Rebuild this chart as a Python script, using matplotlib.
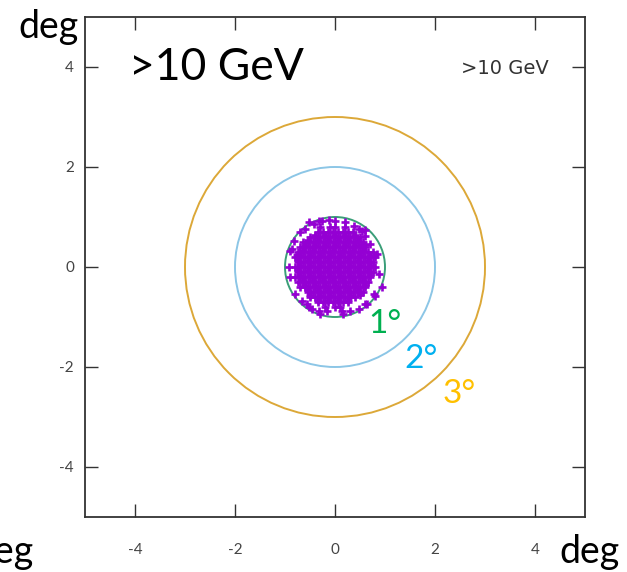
import matplotlib
matplotlib.use("Agg")
import matplotlib.pyplot as plt
from matplotlib.patches import Circle

# ---------------- data ----------------
tick_values = [-4, -2, 0, 2, 4]
tick_labels = ["-4", "-2", "0", "2", "4"]

ring_radii = [1, 2, 3]
ring_colors = ["#3a9e78", "#8cc6e6", "#dca838"]
ring_labels = ["1°", "2°", "3°"]
ring_label_colors = ["#00b050", "#00b0f0", "#ffc000"]
ring_label_x = [1.00, 1.72, 2.48]
ring_label_y = [-1.14, -1.84, -2.54]

# dense core of events (deg), read row by row
core_row_y = [0.8, 0.7, 0.6, 0.5, 0.4, 0.3, 0.2, 0.1, 0.0,
              -0.1, -0.2, -0.3, -0.4, -0.5, -0.6, -0.7, -0.8]
core_row_x = [
    [-0.3, -0.1, 0.0, 0.2],
    [-0.35, -0.25, -0.15, -0.05, 0.05, 0.15, 0.25, 0.35],
    [-0.5, -0.4, -0.3, -0.2, -0.1, 0.0, 0.1, 0.2, 0.3, 0.4, 0.5],
    [-0.65, -0.55, -0.45, -0.35, -0.25, -0.15, -0.05, 0.05, 0.15, 0.25, 0.35, 0.45, 0.55],
    [-0.7, -0.6, -0.5, -0.4, -0.3, -0.2, -0.1, 0.0, 0.1, 0.2, 0.3, 0.4, 0.5, 0.6],
    [-0.75, -0.65, -0.55, -0.45, -0.35, -0.25, -0.15, -0.05, 0.05, 0.15, 0.25, 0.35, 0.45, 0.55, 0.65, 0.75],
    [-0.8, -0.7, -0.6, -0.5, -0.4, -0.3, -0.2, -0.1, 0.0, 0.1, 0.2, 0.3, 0.4, 0.5, 0.6, 0.7],
    [-0.75, -0.65, -0.55, -0.45, -0.35, -0.25, -0.15, -0.05, 0.05, 0.15, 0.25, 0.35, 0.45, 0.55, 0.65, 0.75],
    [-0.8, -0.7, -0.6, -0.5, -0.4, -0.3, -0.2, -0.1, 0.0, 0.1, 0.2, 0.3, 0.4, 0.5, 0.6, 0.7, 0.8],
    [-0.75, -0.65, -0.55, -0.45, -0.35, -0.25, -0.15, -0.05, 0.05, 0.15, 0.25, 0.35, 0.45, 0.55, 0.65, 0.75],
    [-0.8, -0.7, -0.6, -0.5, -0.4, -0.3, -0.2, -0.1, 0.0, 0.1, 0.2, 0.3, 0.4, 0.5, 0.6, 0.7],
    [-0.75, -0.65, -0.55, -0.45, -0.35, -0.25, -0.15, -0.05, 0.05, 0.15, 0.25, 0.35, 0.45, 0.55, 0.65],
    [-0.7, -0.6, -0.5, -0.4, -0.3, -0.2, -0.1, 0.0, 0.1, 0.2, 0.3, 0.4, 0.5, 0.6],
    [-0.55, -0.45, -0.35, -0.25, -0.15, -0.05, 0.05, 0.15, 0.25, 0.35, 0.45, 0.55],
    [-0.5, -0.4, -0.3, -0.2, -0.1, 0.0, 0.1, 0.2, 0.3, 0.4],
    [-0.35, -0.25, -0.15, -0.05, 0.05, 0.15, 0.25],
    [-0.2, 0.0, 0.1],
]

# second, interleaved pass over the dense core (deg)
fill_row_y = [0.65, 0.55, 0.45, 0.35, 0.25, 0.15, 0.05,
              -0.05, -0.15, -0.25, -0.35, -0.45, -0.55, -0.65]
fill_row_x = [
    [-0.4, -0.2, 0.0, 0.2, 0.4],
    [-0.55, -0.35, -0.15, 0.05, 0.25, 0.45],
    [-0.6, -0.4, -0.2, 0.0, 0.2, 0.4, 0.6],
    [-0.65, -0.45, -0.25, -0.05, 0.15, 0.35, 0.55],
    [-0.7, -0.5, -0.3, -0.1, 0.1, 0.3, 0.5, 0.7],
    [-0.75, -0.55, -0.35, -0.15, 0.05, 0.25, 0.45, 0.65],
    [-0.7, -0.5, -0.3, -0.1, 0.1, 0.3, 0.5, 0.7],
    [-0.75, -0.55, -0.35, -0.15, 0.05, 0.25, 0.45, 0.65],
    [-0.7, -0.5, -0.3, -0.1, 0.1, 0.3, 0.5, 0.7],
    [-0.65, -0.45, -0.25, -0.05, 0.15, 0.35, 0.55],
    [-0.6, -0.4, -0.2, 0.0, 0.2, 0.4, 0.6],
    [-0.55, -0.35, -0.15, 0.05, 0.25, 0.45],
    [-0.5, -0.3, -0.1, 0.1, 0.3, 0.5],
    [-0.35, -0.15, 0.05, 0.25],
]

# sparse outer events (deg)
halo_x = [-0.53, -0.33, -0.13, 0.00, 0.20, 0.37, 0.53, 0.60, 0.70, 0.80,
          0.87, 0.93, 0.77, 0.60, 0.47, 0.15, -0.33, -0.53, -0.67, -0.80,
          -0.90, -0.93, -0.90, -0.83, -0.70, -0.60, 0.47, 0.60, 0.83, 0.80,
          0.64, 0.30, -0.47, -0.31, -0.57, -0.17, -0.42, -0.26, -0.87, -0.77,
          0.53, 0.13]
halo_y = [0.90, 0.93, 0.95, 0.93, 0.90, 0.83, 0.73, 0.63, 0.47, 0.20,
          -0.13, -0.40, -0.53, -0.73, -0.83, -0.93, -0.87, -0.80, -0.67, -0.53,
          -0.20, 0.00, 0.33, 0.53, 0.70, 0.76, 0.77, 0.74, 0.27, -0.57,
          -0.74, -0.87, -0.83, -0.93, -0.73, -0.87, 0.87, 0.92, 0.37, 0.24,
          0.44, -0.87]

# ---------------- figure ----------------
W, H = 627, 572
fig = plt.figure(figsize=(W / 100, H / 100), dpi=100)
ax = fig.add_axes([85 / W, 55 / H, 500 / W, 500 / H])

pts_x, pts_y = [], []
for rows_y, rows_x in ((core_row_y, core_row_x), (fill_row_y, fill_row_x)):
    for yv, xs in zip(rows_y, rows_x):
        for xv in xs:
            pts_x.append(xv)
            pts_y.append(yv)
pts_x += halo_x
pts_y += halo_y

for r, c in zip(ring_radii, ring_colors):
    ax.add_patch(Circle((0, 0), r, fill=False, edgecolor=c, linewidth=1.4, zorder=2))

ax.scatter(pts_x, pts_y, marker="+", s=5.5 ** 2, linewidths=1.9,
           color="#9400d3", zorder=3)

ax.set_xlim(-5, 5)
ax.set_ylim(-5, 5)
ax.set_xticks(tick_values)
ax.set_xticklabels(tick_labels)
ax.set_yticks(tick_values)
ax.set_yticklabels(tick_labels)
ax.tick_params(direction="in", length=9.5, width=1.0, color="#333333",
               top=True, right=True, labelsize=11, labelcolor="#444444")
ax.tick_params(axis="x", pad=19)
ax.tick_params(axis="y", pad=8)
for lab in ax.get_xticklabels() + ax.get_yticklabels():
    lab.set_family("Lato")
for sp in ax.spines.values():
    sp.set_color("#333333")
    sp.set_linewidth(1.3)

for t, x, y, c in zip(ring_labels, ring_label_x, ring_label_y, ring_label_colors):
    ax.text(x, y, t, color=c, fontsize=24, family="Lato", ha="center", va="center")

ax.text(4.28, 3.96, ">10 GeV", color="#333333", fontsize=14, family="DejaVu Sans",
        ha="right", va="center")

fig.text(216 / W, 1 - 80 / H, ">10 GeV", fontsize=32, family="Lato",
         ha="center", va="baseline", color="black")
fig.text(18 / W, 1 - 38 / H, "deg", fontsize=27, family="Lato",
         ha="left", va="baseline", color="black")
fig.text(559 / W, 1 - 563 / H, "deg", fontsize=27, family="Lato",
         ha="left", va="baseline", color="black")
fig.text(34 / W, 1 - 563 / H, "deg", fontsize=27, family="Lato",
         ha="right", va="baseline", color="black")

fig.savefig("out.png", dpi=100)
